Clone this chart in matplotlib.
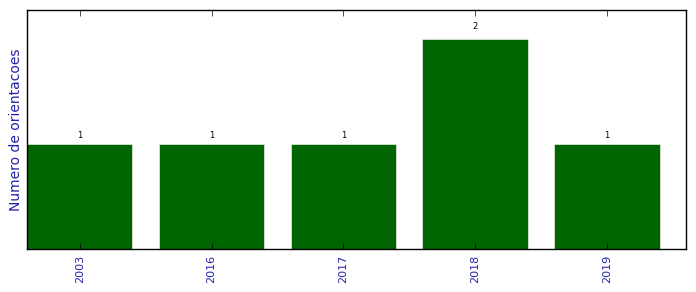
import matplotlib
matplotlib.use("Agg")
import matplotlib.pyplot as plt

anos = ["2003", "2016", "2017", "2018", "2019"]
orientacoes = [1, 1, 1, 2, 1]

plt.style.use("classic")
fig = plt.figure(figsize=(6.96, 2.92), dpi=100)
ax = fig.add_axes([27 / 696, 43 / 292, 659 / 696, 239 / 292])

pos = range(len(anos))
barras = ax.bar(pos, orientacoes, width=0.8, align="center", color="darkgreen",
                edgecolor="#e8f0e8", linewidth=0.5)
for b, v in zip(barras, orientacoes):
    ax.text(b.get_x() + b.get_width() / 2, v * 1.04, str(v),
            ha="center", va="bottom", fontsize=6)

ax.set_xlim(-0.4, 4.6)
ax.set_ylim(0, 2.28)
ax.set_xticks(list(pos))
ax.set_xticklabels(anos, rotation=90, color="#2222aa", fontsize=8)
ax.set_yticks([])
ax.tick_params(axis="x", direction="in", length=4)
ax.set_ylabel("Numero de orientacoes", color="#2222aa", fontsize=10)
ax.yaxis.set_label_coords(-0.006, 0.5)

fig.savefig("out.png", dpi=100)
